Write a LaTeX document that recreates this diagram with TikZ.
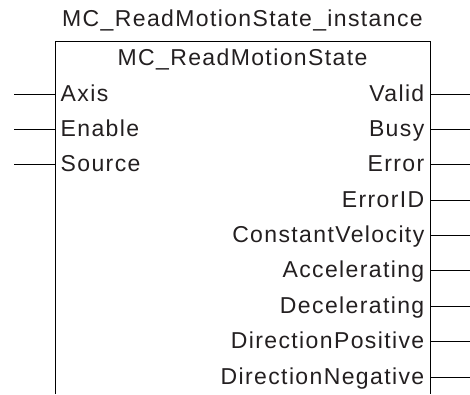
\documentclass[tikz,border=0pt]{standalone}
\usepackage{fontspec}
\setmainfont{Liberation Sans}[LetterSpace=6]
\usepackage{xcolor}
\usepackage{tikz}
\definecolor{FBtext}{RGB}{35,31,32}

\begin{document}
\begin{tikzpicture}[x=1pt,y=-1pt,
  lbl/.style={font=\fontsize{23}{27}\selectfont,text=FBtext,inner sep=0pt},
  pinlbl/.style={lbl,inner xsep=5.5pt,text height=15pt,text depth=1pt},
  wire/.style={line width=1pt,black}]
\useasboundingbox(0,0)rectangle(470,394);
% function block, open at the bottom
\coordinate(boxBL)at(55,394);
\coordinate(boxTL)at(55,41);
\coordinate(boxTR)at(430,41);
\coordinate(boxBR)at(430,394);
\draw[wire](boxBL)--(boxTL)--(boxTR)--(boxBR);
\node[lbl,anchor=base](instName)at(242.5,26){MC\_ReadMotionState\_instance};
\node[lbl,anchor=base](fbName)at(242.5,65){MC\_ReadMotionState};
% inputs
\foreach \lab/\k in {Axis/0,Enable/1,Source/2}{
  \node[pinlbl,anchor=west](in\k)at(55,94+35.375*\k){\lab};
  \coordinate(inEnd\k)at(14,94+35.375*\k);
  \draw[wire](inEnd\k)--(in\k.west);
}
% outputs
\foreach \lab/\k in {Valid/0,Busy/1,Error/2,ErrorID/3,ConstantVelocity/4,
  Accelerating/5,Decelerating/6,DirectionPositive/7,DirectionNegative/8}{
  \node[pinlbl,anchor=east](out\k)at(430,94+35.375*\k){\lab};
  \coordinate(outEnd\k)at(470,94+35.375*\k);
  \draw[wire](out\k.east)--(outEnd\k);
}
\end{tikzpicture}
\end{document}
